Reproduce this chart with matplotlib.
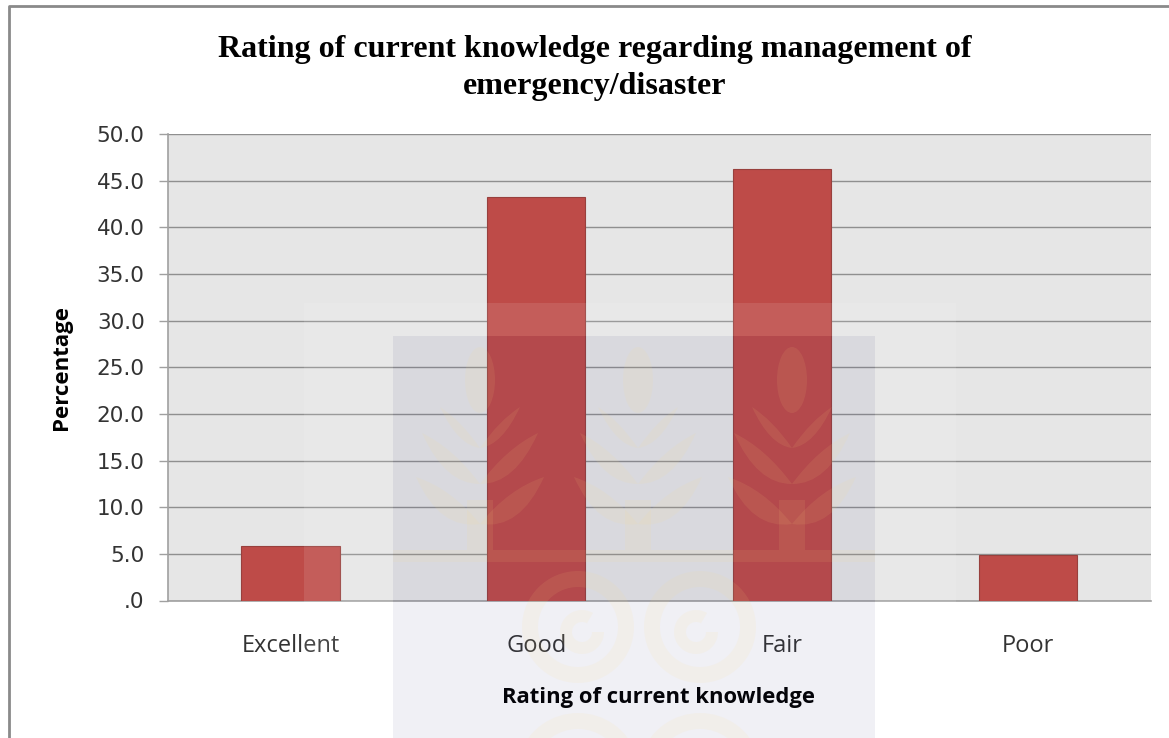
import matplotlib

matplotlib.use("Agg")
import matplotlib.pyplot as plt
from matplotlib.patches import Ellipse, PathPatch, Rectangle, Wedge
from matplotlib.path import Path
from matplotlib.transforms import Affine2D

W, H = 1169, 738

categories = ["Excellent", "Good", "Fair", "Poor"]
percentages = [5.8, 43.3, 46.2, 4.9]
yticks = [0, 5, 10, 15, 20, 25, 30, 35, 40, 45, 50]
ytick_labels = [".0", "5.0", "10.0", "15.0", "20.0", "25.0", "30.0", "35.0", "40.0", "45.0", "50.0"]

# image pixels, y going down, for everything laid over the chart
px = Affine2D().scale(1, -1).translate(0, H)
LEAF = dict(fc=(1.0, 0.88, 0.51), ec="none", alpha=0.09, zorder=7)


def overlay(fig, patch):
    patch.set_transform(px)
    fig.add_artist(patch)


def curved_leaf(fig, base, tip, bulge):
    # two quadratic curves from base to tip, bowed opposite ways
    mx, my = (base[0] + tip[0]) / 2, (base[1] + tip[1]) / 2
    verts = [base, (mx + bulge[0], my + bulge[1]), tip,
             (mx - bulge[0] * 0.4, my - bulge[1] * 0.4), base]
    codes = [Path.MOVETO, Path.CURVE3, Path.CURVE3, Path.CURVE3, Path.CURVE3]
    overlay(fig, PathPatch(Path(verts, codes), **LEAF))


def add_watermark(fig):
    # pale strips around the blue-grey block of the crest
    pale = dict(fc="white", ec="none", alpha=0.1, zorder=5)
    overlay(fig, Rectangle((304, 303), 652, 33, **pale))
    overlay(fig, Rectangle((304, 336), 89, 402, **pale))
    overlay(fig, Rectangle((875, 336), 81, 402, **pale))
    overlay(fig, Rectangle((393, 336), 482, 402, fc="#3c3c82", ec="none", alpha=0.075, zorder=6))
    overlay(fig, Rectangle((393, 550), 482, 12, **LEAF))

    for cx in [480, 638, 792]:
        overlay(fig, Ellipse((cx, 380), 30, 66, **LEAF))
        overlay(fig, Rectangle((cx - 13, 500), 26, 50, **LEAF))
        for side in [-1, 1]:
            curved_leaf(fig, (cx, 448), (cx + side * 40, 407), (side * 2, 18))
            curved_leaf(fig, (cx, 484), (cx + side * 58, 433), (side * 6, 26))
            curved_leaf(fig, (cx, 524), (cx + side * 64, 477), (side * 8, 30))

    for cx, sign in [(578, 1), (700, -1)]:
        overlay(fig, Wedge((cx, 627), 56, 0, 360, width=16, **LEAF))
        overlay(fig, Wedge((cx + sign * 4, 632), 22, 0, 300, width=12, **LEAF))
        overlay(fig, Wedge((cx, 775), 62, 200, 340, width=16, **LEAF))


fig = plt.figure(figsize=(W / 100, H / 100), dpi=100, facecolor="white")
ax = fig.add_axes([167.5 / W, 1 - 600.5 / H, (1151 - 167.5) / W, (600.5 - 134) / H])
ax.set_facecolor("#e6e6e6")

ax.bar(categories, percentages, width=0.4, color="#be4b48", edgecolor="#98403d", linewidth=0.8, zorder=3)
ax.set_xlim(-0.5, 3.5)
ax.set_ylim(0, 50)
ax.set_yticks(yticks, ytick_labels, fontsize=15.5, color="#333333", family="DejaVu Sans")
ax.yaxis.grid(True, color="#8f8f8f", linewidth=1.0, zorder=1)
ax.set_axisbelow(True)
ax.tick_params(axis="y", length=6.5, width=1.0, color="#a0a0a0", pad=10)
ax.tick_params(axis="x", length=0, pad=24)
for lab in ax.get_xticklabels():
    lab.set_fontfamily("Open Sans")
    lab.set_fontsize(17)
    lab.set_color("#333333")
for side in ["top", "right"]:
    ax.spines[side].set_visible(False)
for side in ["left", "bottom"]:
    ax.spines[side].set_color("#a0a0a0")
    ax.spines[side].set_linewidth(1.2)

fig.text(595 / W, 1 - 49 / H, "Rating of current knowledge regarding management of",
         family="Liberation Serif", weight="bold", fontsize=23, ha="center", va="center")
fig.text(595 / W, 1 - 86.5 / H, "emergency/disaster",
         family="Liberation Serif", weight="bold", fontsize=23, ha="center", va="center")
fig.text(62 / W, 1 - 367 / H, "Percentage", family="Open Sans", weight="bold", fontsize=16,
         rotation=90, ha="center", va="center")
fig.text(659 / W, 1 - 698 / H, "Rating of current knowledge", family="Open Sans", weight="bold",
         fontsize=15.8, ha="center", va="center")

add_watermark(fig)

# outer frame of the pasted chart
frame_x = [9, 9, W]
frame_y = [H, 6, 6]
fig.add_artist(plt.Line2D(frame_x, frame_y, color="#8a8a8a", linewidth=2, transform=px, zorder=8))

fig.savefig("out.png", dpi=100)
